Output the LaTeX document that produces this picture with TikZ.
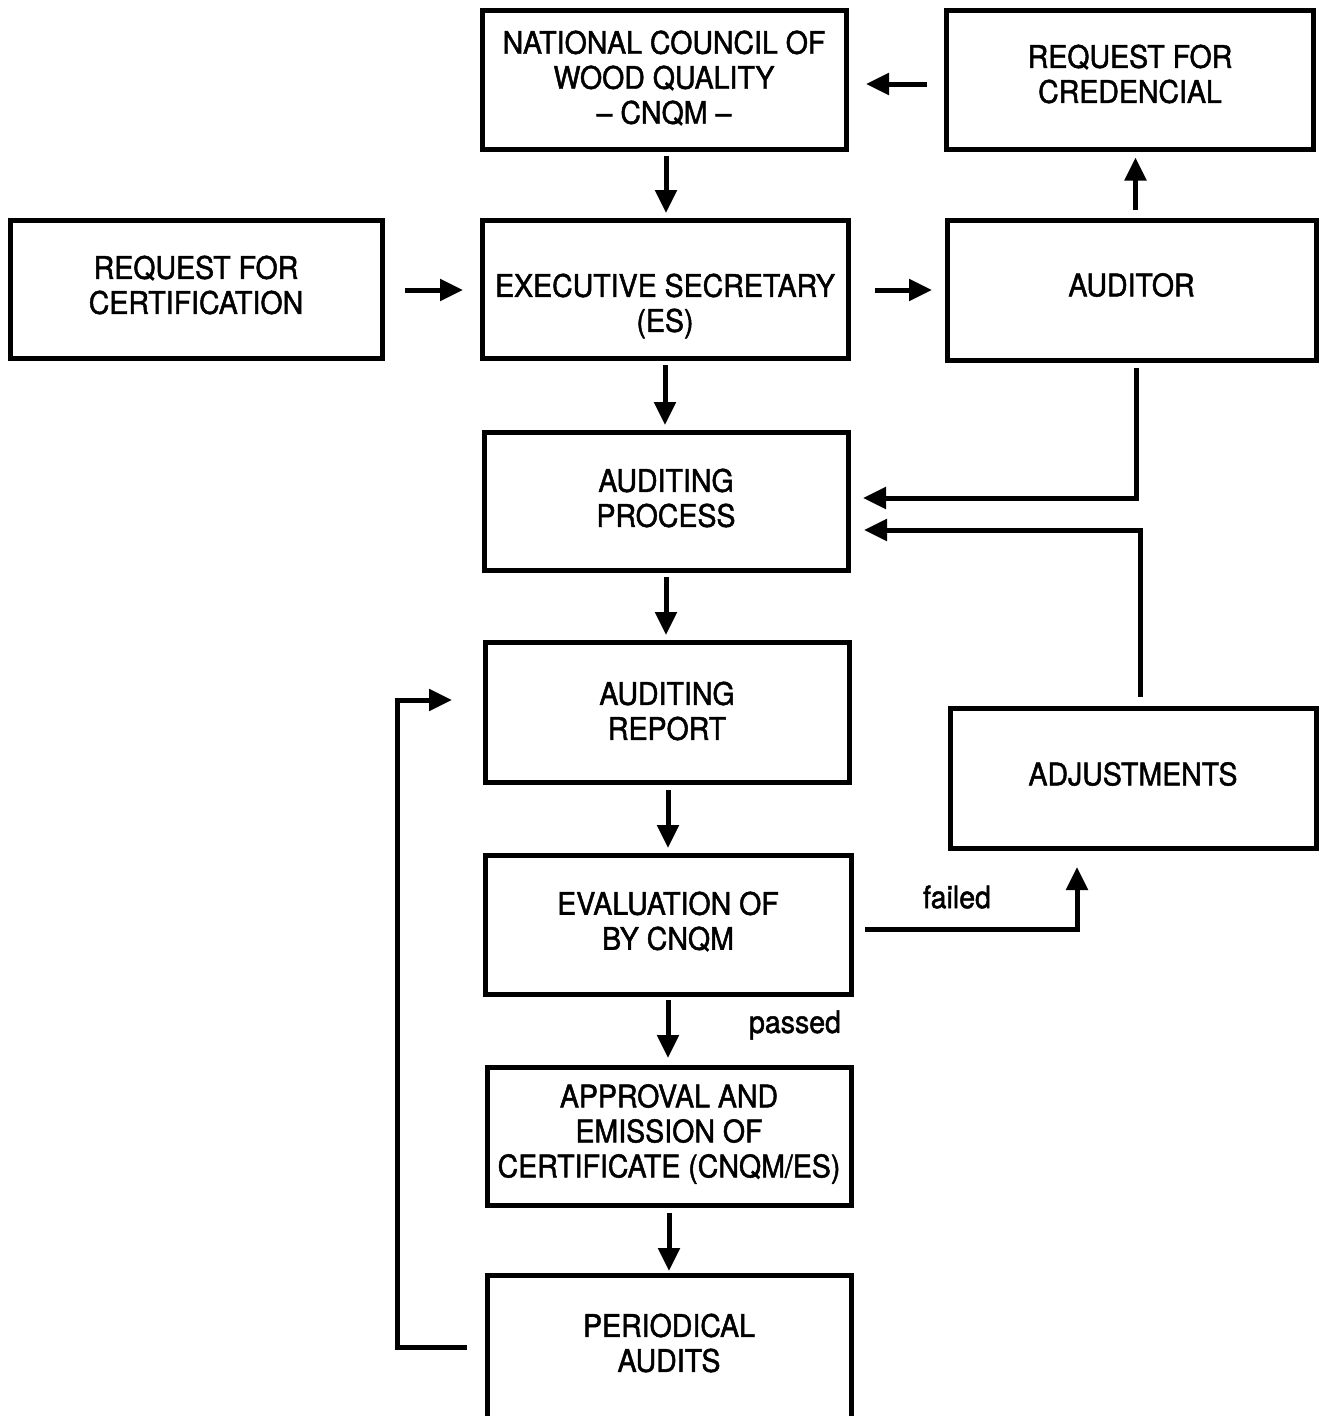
\documentclass[tikz,border=0pt]{standalone}
\usepackage{fontspec}
\setmainfont{TeX Gyre Heros}[FakeStretch=0.92,FakeBold=1.5]
\usetikzlibrary{arrows.meta,calc}
\begin{document}
\begin{tikzpicture}[x=1pt,y=-1pt,
  box/.style={draw, line width=5pt, inner sep=0pt, outer sep=0pt},
  txt/.style={inner sep=0pt, align=center, font=\fontsize{31}{35}\selectfont},
  arr/.style={line width=5pt, -{Triangle[length=23pt,width=21pt]}}]
\useasboundingbox (0,0) rectangle (1321,1416);
\fill[white] (0,0) rectangle (1321,1416);
% boxes
\node[box, minimum width=364pt, minimum height=139pt] (cnqm) at (664,80) {};
\node[box, minimum width=367pt, minimum height=139pt] (cred) at (1130,80) {};
\node[box, minimum width=372pt, minimum height=138pt] (cert) at (196,289) {};
\node[box, minimum width=366pt, minimum height=138pt] (es) at (665,289) {};
\node[box, minimum width=369pt, minimum height=140pt] (aud) at (1131.5,290) {};
\node[box, minimum width=364pt, minimum height=138pt] (ap) at (666,501) {};
\node[box, minimum width=364pt, minimum height=140pt] (ar) at (667,712) {};
\node[box, minimum width=366pt, minimum height=140pt] (adj) at (1133,778) {};
\node[box, minimum width=366pt, minimum height=139pt] (ev) at (668,924.5) {};
\node[box, minimum width=364pt, minimum height=138pt] (appr) at (669,1136) {};
\node[box, minimum width=364pt, minimum height=150pt] (per) at (669,1350) {};
% box texts
\node[txt] (cnqmtext) at (664,78) {NATIONAL COUNCIL OF\\WOOD QUALITY\\-- CNQM --};
\node[txt] (credtext) at (1130,74) {REQUEST FOR\\CREDENCIAL};
\node[txt] (certtext) at (196,285) {REQUEST FOR\\CERTIFICATION};
\node[txt] (estext) at (665,306) {EXECUTIVE SECRETARY\\(ES)};
\node[txt] (audtext) at (1131.5,285) {AUDITOR};
\node[txt] (aptext) at (666,498) {AUDITING\\PROCESS};
\node[txt] (artext) at (667,711) {AUDITING\\REPORT};
\node[txt] (adjtext) at (1133,774) {ADJUSTMENTS};
\node[txt] (evtext) at (668,921.5) {EVALUATION OF\\BY CNQM};
\node[txt] (apprtext) at (669,1134) {APPROVAL AND\\EMISSION OF\\CERTIFICATE (CNQM/ES)};
\node[txt] (pertext) at (669,1343) {PERIODICAL\\AUDITS};
% labels
\node[txt] (failed) at (957,897) {failed};
\node[txt] (passed) at (795,1025) {passed};
% connectors
\draw[arr] ($(cred.west)+(-20,4)$) -- ($(cnqm.east)+(20,4)$);
\draw[arr] ($(cnqm.south)+(2,6)$) -- ($(cnqm.south |- es.north)+(2,-7)$);
\draw[arr] ($(cert.east)+(23,1)$) -- ($(cert.east -| es.west)+(-19,1)$);
\draw[arr] ($(es.east)+(27,1)$) -- ($(es.east -| aud.west)+(-15,1)$);
\draw[arr] ($(aud.north)+(4,-10)$) -- ($(aud.north |- cred.south)+(4,8)$);
\draw[arr] ($(es.south)+(0,7)$) -- ($(es.south |- ap.north)+(0,-7)$);
\draw[arr] ($(aud.south)+(5,8)$) |- ($(ap.east)+(15,-3)$);
\draw[arr] ($(adj.north)+(7,-11)$) |- ($(ap.east)+(16,29)$);
\draw[arr] ($(ap.south)+(0,7)$) -- ($(ap.south |- ar.north)+(0,-7)$);
\draw[arr] ($(ar.south)+(1,8)$) -- ($(ar.south |- ev.north)+(1,-7)$);
\draw[arr] ($(ev.east)+(14,5)$) -| ($(adj.south)+(-56,19)$);
\draw[arr] ($(ev.south)+(0,6)$) -- ($(ev.south |- appr.north)+(0,-9)$);
\draw[arr] ($(appr.south)+(0,8)$) -- ($(appr.south |- per.north)+(0,-4)$);
\draw[arr] ($(per.west)+(-20,-3)$) -| ($(ar.west)+(-88,-12)$) -- ($(ar.west)+(-33,-12)$);
\end{tikzpicture}
\end{document}
